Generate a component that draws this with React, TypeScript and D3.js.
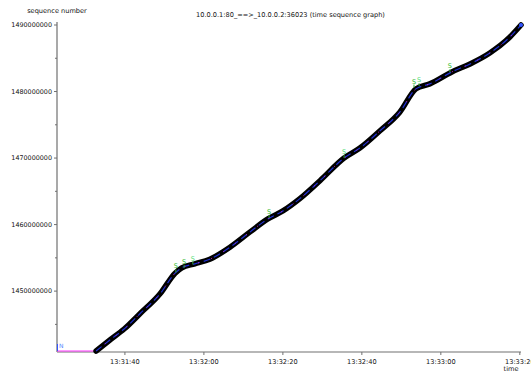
import React from "react";
import * as d3 from "d3";

// Time sequence samples (clock time, sequence number)
const times = [
  "13:31:32.7", "13:31:36.2", "13:31:39.8", "13:31:43.8", "13:31:48.9", "13:31:52.7",
  "13:31:54.4", "13:31:57.7", "13:32:01.5", "13:32:06.6", "13:32:11.7", "13:32:16.2",
  "13:32:20.0", "13:32:24.3", "13:32:29.4", "13:32:35.5", "13:32:39.5", "13:32:44.6",
  "13:32:49.6", "13:32:53.7", "13:32:57.2", "13:33:02.8", "13:33:07.4", "13:33:12.4",
  "13:33:17.5", "13:33:20.3",
];
const seqs = [
  1441.0e6, 1442.65e6, 1444.3e6, 1446.6e6, 1449.6e6, 1452.7e6,
  1453.5e6, 1454.1e6, 1454.8e6, 1456.6e6, 1458.9e6, 1460.85e6,
  1462.05e6, 1463.9e6, 1466.6e6, 1470.0e6, 1471.5e6, 1474.1e6,
  1476.9e6, 1480.4e6, 1481.15e6, 1482.95e6, 1484.15e6, 1485.8e6,
  1488.2e6, 1490.0e6,
];

// SACK marks along the trace
const sackTimes = ["13:31:52.9", "13:31:55.0", "13:31:57.2", "13:32:16.5", "13:32:35.5", "13:32:53.2", "13:32:54.5", "13:33:02.3"];
const sackSeqs = [1452.8e6, 1453.5e6, 1454.0e6, 1461.0e6, 1470.0e6, 1480.6e6, 1480.8e6, 1482.9e6];

const yTickValues = [1450000000, 1460000000, 1470000000, 1480000000, 1490000000];
const yMinorValues = [1445000000, 1455000000, 1465000000, 1475000000, 1485000000];
const xTickLabels = ["13:31:40", "13:32:00", "13:32:20", "13:32:40", "13:33:00", "13:33:20"];

const title = "10.0.0.1:80_==>_10.0.0.2:36023 (time sequence graph)";

const toDate = (s: string) => {
  const [h, m, sec] = s.split(":");
  const secs = parseFloat(sec);
  return new Date(2020, 0, 1, +h, +m, Math.floor(secs), Math.round((secs % 1) * 1000));
};

const W = 531;
const H = 374;
const left = 57;
const right = 521;
const top = 25;
const bottom = 351;

export default function App() {
  const x = d3.scaleTime()
    .domain([toDate("13:31:22.8"), toDate("13:33:20.3")])
    .range([left, right]);
  const y = d3.scaleLinear()
    .domain([1441.0e6, 1490.0e6])
    .range([bottom, top]);

  const pts = times.map((t, i) => [x(toDate(t)), y(seqs[i])] as [number, number]);
  const line = d3.line().curve(d3.curveMonotoneX)(pts) || "";

  const font = "DejaVu Sans, sans-serif";
  const axisColor = "#707070";
  const startX = x(toDate(times[0]));

  return (
    <svg
      width={W}
      height={H}
      style={{ position: "absolute", left: 0, top: 0, background: "#fff" }}
      fontFamily={font}
    >
      <rect width={W} height={H} fill="#fff" />
      <text x={W / 2 + 25} y={17} fontSize={6.6} textAnchor="middle" fill="#111">{title}</text>
      <text x={57} y={13} fontSize={6.6} textAnchor="middle" fill="#111">sequence number</text>

      {/* y axis */}
      <line x1={left} x2={left} y1={22} y2={bottom + 1} stroke={axisColor} strokeWidth={1.2} />
      {yTickValues.map((v) => (
        <g key={v}>
          <line x1={left - 3} x2={left} y1={y(v)} y2={y(v)} stroke={axisColor} />
          <text x={left - 5} y={y(v) + 2.3} fontSize={6.4} textAnchor="end" fill="#111">{v}</text>
        </g>
      ))}
      {yMinorValues.map((v) => (
        <line key={v} x1={left - 2} x2={left} y1={y(v)} y2={y(v)} stroke={axisColor} />
      ))}

      {/* x axis */}
      <line x1={left} x2={right} y1={bottom + 1} y2={bottom + 1} stroke={axisColor} strokeWidth={1.2} />
      {xTickLabels.map((l) => {
        const px = x(toDate(l));
        return (
          <g key={l}>
            <line x1={px} x2={px} y1={bottom + 1} y2={bottom + 4} stroke={axisColor} />
            <text x={px} y={bottom + 13} fontSize={6.6} textAnchor="middle" fill="#111">{l}</text>
          </g>
        );
      })}
      <text x={511} y={371} fontSize={6.6} textAnchor="middle" fill="#111">time</text>

      {/* idle window before data */}
      <line x1={left} x2={startX} y1={bottom} y2={bottom} stroke="#ff33ff" strokeWidth={1.2} />
      <line x1={left + 0.5} x2={left + 0.5} y1={bottom - 7} y2={bottom} stroke="#3355ff" strokeWidth={1} />
      <text x={left + 2} y={bottom - 3} fontSize={6} fill="#5588ff">N</text>

      {/* sequence trace */}
      <path d={line} fill="none" stroke="#000" strokeWidth={5.5} strokeLinecap="round" />
      <path d={line} fill="none" stroke="#1f2fd0" strokeWidth={1.2} strokeDasharray="7 4" />
      <path d={line} fill="none" stroke="#cc22cc" strokeWidth={1} strokeDasharray="1 13" strokeDashoffset={3} />

      {/* end marker */}
      <circle cx={pts[pts.length - 1][0]} cy={pts[pts.length - 1][1]} r={2} fill="#3355ff" />

      {/* SACK marks */}
      {sackTimes.map((t, i) => {
        const px = x(toDate(t));
        const py = y(sackSeqs[i]);
        return (
          <g key={t}>
            <line x1={px} x2={px} y1={py - 3} y2={py} stroke="#33aa33" strokeWidth={1} />
            <text x={px} y={py - 4} fontSize={6.5} textAnchor="middle" fill={i === 2 || i === 4 || i === 6 ? "#55dd77" : "#33bb33"}>S</text>
          </g>
        );
      })}
    </svg>
  );
}
